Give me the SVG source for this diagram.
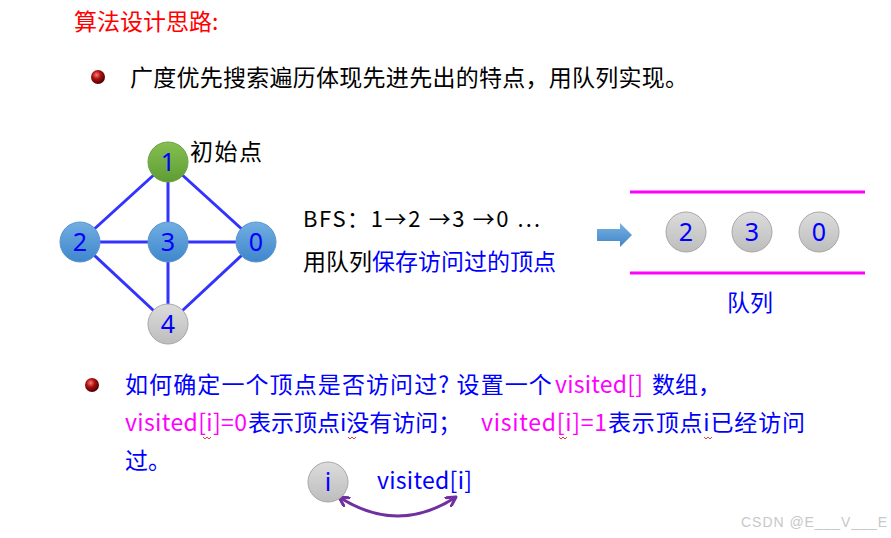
<svg xmlns="http://www.w3.org/2000/svg" width="891" height="538" viewBox="0 0 891 538">
<defs>
<linearGradient id="gGreen" x1="0" y1="0" x2="0" y2="1"><stop offset="0" stop-color="#86bf52"/><stop offset="1" stop-color="#5e9d34"/></linearGradient>
<linearGradient id="gBlue" x1="0" y1="0" x2="0" y2="1"><stop offset="0" stop-color="#72aee2"/><stop offset="1" stop-color="#3e86cc"/></linearGradient>
<linearGradient id="gGray" x1="0" y1="0" x2="0" y2="1"><stop offset="0" stop-color="#dcdcdc"/><stop offset="1" stop-color="#bdbdbd"/></linearGradient>
<linearGradient id="gArrow" x1="0" y1="0" x2="0" y2="1"><stop offset="0" stop-color="#7ab2e4"/><stop offset="1" stop-color="#3f84c8"/></linearGradient>
<radialGradient id="gBullet" cx="0.4" cy="0.35" r="0.65"><stop offset="0" stop-color="#f08080"/><stop offset="0.45" stop-color="#b01010"/><stop offset="1" stop-color="#4a0000"/></radialGradient>
<marker id="chev" viewBox="0 0 12 12" refX="10" refY="6" markerWidth="12" markerHeight="12" markerUnits="userSpaceOnUse" orient="auto-start-reverse">
<path d="M1,1 L10,6 L1,11" fill="none" stroke="#7030a0" stroke-width="3" stroke-linecap="round" stroke-linejoin="round"/>
</marker>
<style>
.cjk{font-family:"Noto Sans CJK SC","Noto Sans",sans-serif;}
.num{font-family:"Noto Sans","Noto Sans CJK SC",sans-serif;fill:#0000ff;font-size:25px;text-anchor:middle;}
.edge{stroke:#3333ff;stroke-width:3;fill:none;}
.gray{fill:url(#gGray);stroke:#a8a8a8;stroke-width:1;}
.blue{fill:url(#gBlue);stroke:#5b95cf;stroke-width:1;}
.mag{fill:#ff00ff;}
.bl{fill:#0000ff;}
.squig{fill:none;stroke:#e04040;stroke-width:1;}
</style>
</defs>
<rect width="891" height="538" fill="#ffffff"/>

<text id="title" class="cjk" x="74" y="30" font-size="23" fill="#ff0000">算法设计思路:</text>

<circle cx="98" cy="77" r="7" fill="url(#gBullet)"/>
<text class="cjk" x="130" y="86" font-size="23" fill="#000000" textLength="558">广度优先搜索遍历体现先进先出的特点，用队列实现。</text>

<g id="connectors">
<line class="edge" x1="168" y1="162" x2="80" y2="242"/>
<line class="edge" x1="168" y1="162" x2="168" y2="242"/>
<line class="edge" x1="168" y1="162" x2="256" y2="242"/>
<line class="edge" x1="80" y1="242" x2="256" y2="242"/>
<line class="edge" x1="80" y1="242" x2="168" y2="324"/>
<line class="edge" x1="168" y1="242" x2="168" y2="324"/>
<line class="edge" x1="256" y1="242" x2="168" y2="324"/>
<path d="M339,497 Q398,535 456,497" fill="none" stroke="#7030a0" stroke-width="3" marker-start="url(#chev)" marker-end="url(#chev)"/>
</g>

<g id="node1"><circle cx="168" cy="162" r="20" fill="url(#gGreen)" stroke="#6aa53f" stroke-width="1"/><text class="num" x="168" y="171">1</text></g>
<g id="node2"><circle class="blue" cx="80" cy="242" r="20"/><text class="num" x="80" y="251">2</text></g>
<g id="node3"><circle class="blue" cx="168" cy="242" r="20"/><text class="num" x="168" y="251">3</text></g>
<g id="node0"><circle class="blue" cx="256" cy="242" r="20"/><text class="num" x="256" y="251">0</text></g>
<g id="node4"><circle class="gray" cx="168" cy="324" r="20"/><text class="num" x="168" y="333">4</text></g>
<text class="cjk" x="190" y="160" font-size="23" fill="#000000" textLength="72">初始点</text>

<text class="cjk" x="303" y="227" font-size="22" fill="#000000" textLength="237" lengthAdjust="spacing">BFS：1→2 →3 →0  …</text>
<text class="cjk" x="303" y="270" font-size="23" fill="#000000">用队列<tspan class="bl">保存访问过的顶点</tspan></text>

<polygon points="597,229 620,229 620,223 632,235 620,247 620,241 597,241" fill="url(#gArrow)"/>

<g id="queue">
<line x1="630" y1="192" x2="865" y2="192" stroke="#ff00ff" stroke-width="3"/>
<line x1="630" y1="273" x2="865" y2="273" stroke="#ff00ff" stroke-width="3"/>
</g>
<g id="q2"><circle class="gray" cx="686" cy="232" r="20"/><text class="num" x="686" y="241">2</text></g>
<g id="q3"><circle class="gray" cx="752" cy="232" r="20"/><text class="num" x="752" y="241">3</text></g>
<g id="q0"><circle class="gray" cx="819" cy="232" r="20"/><text class="num" x="819" y="241">0</text></g>
<text class="cjk bl" x="750" y="311" font-size="23" text-anchor="middle">队列</text>

<circle cx="92" cy="385" r="7" fill="url(#gBullet)"/>
<text class="cjk bl" x="125" y="393" font-size="23" letter-spacing="1.1">如何确定一个顶点是否访问过? 设置一个</text>
<text class="cjk mag" x="555" y="393" font-size="23" textLength="88">visited[]</text>
<text class="cjk bl" x="652" y="393" font-size="23">数组，</text>
<text class="cjk mag" x="125" y="431" font-size="23" textLength="122">visited[i]=0</text>
<text class="cjk bl" x="248" y="431" font-size="23">表示顶点i没有访问；</text>
<text class="cjk mag" x="481" y="431" font-size="23" textLength="126">visited[i]=1</text>
<text class="cjk bl" x="608" y="431" font-size="23" textLength="197">表示顶点i已经访问</text>
<text class="cjk bl" x="125" y="469" font-size="23">过。</text>
<path class="squig" d="M203,437 l2,2 l2,-2 l2,2 l2,-2"/>
<path class="squig" d="M348,437 l2,2 l2,-2 l2,2 l2,-2"/>
<path class="squig" d="M559,437 l2,2 l2,-2 l2,2 l2,-2"/>
<path class="squig" d="M704,437 l2,2 l2,-2 l2,2 l2,-2"/>

<g id="nodei"><circle class="gray" cx="328" cy="482" r="20"/><text class="num" x="328" y="491">i</text></g>
<text class="cjk bl" x="377" y="489" font-size="23" textLength="95">visited[i]</text>

<text x="741" y="527" font-family="Liberation Sans, Arial, sans-serif" font-size="14" fill="#c8c8c8" textLength="146">CSDN @E___V___E</text>
</svg>
